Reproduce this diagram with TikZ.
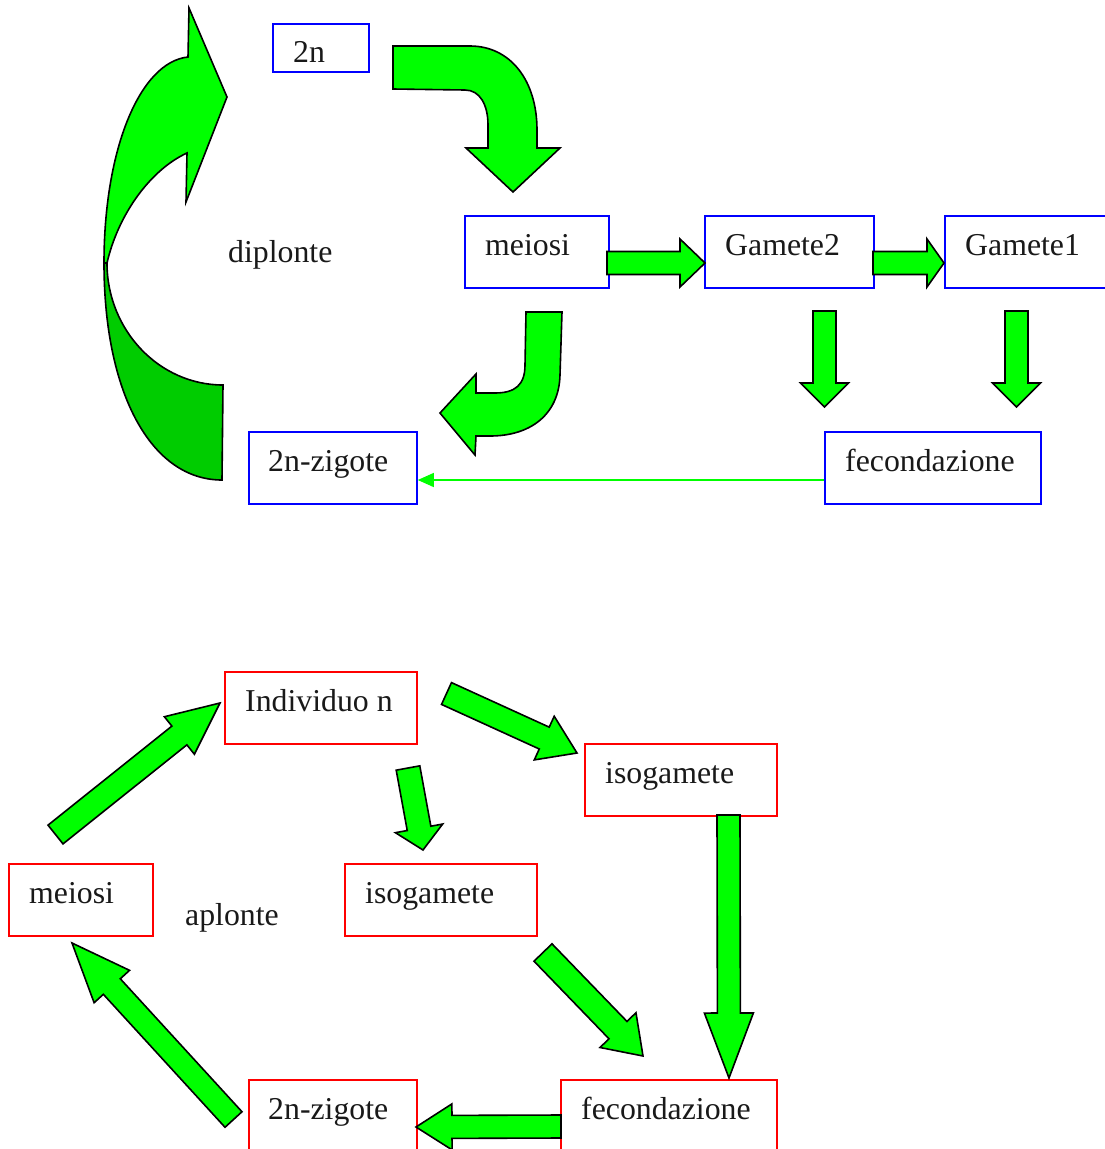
\documentclass[tikz,border=0pt]{standalone}
\usepackage{fontspec}
\setmainfont{Liberation Serif}
\usetikzlibrary{calc,arrows.meta}
\definecolor{bgreen}{RGB}{0,255,0}
\definecolor{dgreen}{RGB}{0,204,0}
\definecolor{bblue}{RGB}{0,0,255}
\definecolor{bred}{RGB}{255,0,0}
\tikzset{
  blkarrow/.style={draw=black, line width=1.6pt, fill=bgreen, line join=miter},
  darkpart/.style={blkarrow, fill=dgreen},
  bluebox/.style={draw=bblue, line width=1.8pt, rectangle, inner sep=0pt, anchor=north west},
  redbox/.style={draw=bred, line width=1.8pt, rectangle, inner sep=0pt, anchor=north west},
  lbl/.style={font=\fontsize{31.8}{37}\selectfont, inner sep=0pt, anchor=base west, text=black!90},
  greenline/.style={draw=bgreen, line width=1.3pt, -{Triangle[length=16pt,width=14pt]}},
}
% #1 start, #2 tip, #3 half shaft width, #4 half head width, #5 head length
\newcommand{\fatarrow}[5]{%
  \path ($(#2)!#5!(#1)$) coordinate (fah);
  \draw[blkarrow] ($(#1)!#3!90:(#2)$) -- ($(fah)!#3!-90:(#1)$) -- ($(fah)!#4!-90:(#1)$)
    -- (#2) -- ($(fah)!#4!90:(#1)$) -- ($(fah)!#3!90:(#1)$) -- ($(#1)!#3!-90:(#2)$) -- cycle;}
\begin{document}
\begin{tikzpicture}[x=1pt,y=-1pt]
\clip (0,0) rectangle (1105,1149);
\fill[white] (0,0) rectangle (1105,1149);

% ---------- top: diplonte ----------
\node[bluebox, minimum width=96pt, minimum height=48pt] (b2n) at (272,23) {};
\node[lbl] (t2n) at (293,62) {2n};
\node[bluebox, minimum width=144pt, minimum height=72pt] (bmei) at (464,215) {};
\node[lbl] (tmei) at (485,255) {meiosi};
\node[bluebox, minimum width=169pt, minimum height=72pt] (bg2) at (704,215) {};
\node[lbl] (tg2) at (725,255) {Gamete2};
\node[bluebox, minimum width=170pt, minimum height=72pt] (bg1) at (944,215) {};
\node[lbl] (tg1) at (965,255) {Gamete1};
\node[bluebox, minimum width=168pt, minimum height=72pt] (bzig) at (248,431) {};
\node[lbl] (tzig) at (268,471) {2n-zigote};
\node[bluebox, minimum width=216pt, minimum height=72pt] (bfec) at (824,431) {};
\node[lbl] (tfec) at (845,471) {fecondazione};
\node[lbl] (tdip) at (228,262) {diplonte};

% big curved arrow (left)
\draw[darkpart] (104,263) .. controls (104,393) and (151,480) .. (222,480)
  -- (223,385) .. controls (159,385) and (107,330) .. (107,263) -- cycle;
\draw[blkarrow] (104,263) .. controls (104,149) and (140,62) .. (188,57)
  -- (189,8) -- (227,97) -- (186,202) -- (187,153)
  .. controls (150,170) and (118,215) .. (107,263) -- cycle;

% curved arrow 2n -> meiosi
\draw[blkarrow] (393,46) -- (470,46) .. controls (510,46) and (537,80) .. (537,130)
  -- (537,148) -- (560,148) -- (513,192) -- (466,148) -- (488,148) -- (488,125)
  .. controls (488,105) and (480,90) .. (465,90) -- (393,89) -- cycle;

% curved arrow meiosi -> 2n-zigote
\draw[blkarrow] (526,312) -- (562,312) -- (560,375) .. controls (559,415) and (530,436) .. (490,436)
  -- (476,436) -- (475,455) -- (440,413) -- (476,374) -- (476,393) -- (495,393)
  .. controls (515,393) and (525,385) .. (525,365) -- cycle;

% straight block arrows (top)
\coordinate (a1s) at (607,263);   \coordinate (a1t) at (705,263);
\coordinate (a2s) at (873,263);   \coordinate (a2t) at (944,263);
\coordinate (a3s) at (824.5,311); \coordinate (a3t) at (824.5,407);
\coordinate (a4s) at (1016.5,311);\coordinate (a4t) at (1016.5,407);
\fatarrow{a1s}{a1t}{11.5pt}{24pt}{25pt}
\fatarrow{a2s}{a2t}{11.5pt}{24pt}{17pt}
\fatarrow{a3s}{a3t}{11.5pt}{24pt}{24pt}
\fatarrow{a4s}{a4t}{11.5pt}{24pt}{24pt}

% thin green connector fecondazione -> 2n-zigote
\coordinate (gls) at (bfec.west |- 0,480);
\coordinate (glt) at (bzig.east |- 0,480);
\draw[greenline] (gls) -- (glt);

% ---------- bottom: aplonte ----------
\node[redbox, minimum width=192pt, minimum height=72pt] (rind) at (224,671) {};
\node[lbl] (tind) at (245,711) {Individuo n};
\node[redbox, minimum width=192pt, minimum height=72pt] (riso1) at (584,743) {};
\node[lbl] (tiso1) at (605,783) {isogamete};
\node[redbox, minimum width=144pt, minimum height=72pt] (rmei) at (8,863) {};
\node[lbl] (trmei) at (29,903) {meiosi};
\node[redbox, minimum width=192pt, minimum height=72pt] (riso2) at (344,863) {};
\node[lbl] (tiso2) at (365,903) {isogamete};
\node[redbox, minimum width=168pt, minimum height=80pt] (rzig) at (248,1079) {};
\node[lbl] (trzig) at (268,1119) {2n-zigote};
\node[redbox, minimum width=216pt, minimum height=80pt] (rfec) at (560,1079) {};
\node[lbl] (trfec) at (581,1119) {fecondazione};
\node[lbl] (tapl) at (185,925) {aplonte};

\coordinate (b1s) at (55.5,834.5); \coordinate (b1t) at (220,703);
\coordinate (b2s) at (446.5,693.5);\coordinate (b2t) at (577,753);
\coordinate (b3s) at (408,768);    \coordinate (b3t) at (423,850);
\coordinate (b4s) at (728.5,815);  \coordinate (b4t) at (729,1078);
\coordinate (b5s) at (543,952.5);  \coordinate (b5t) at (643,1056);
\coordinate (b6s) at (233.5,1119.5);\coordinate (b6t) at (72,943);
\coordinate (b7s) at (561,1126.5); \coordinate (b7t) at (416,1127);
\fatarrow{b1s}{b1t}{12pt}{24pt}{52pt}
\fatarrow{b2s}{b2t}{12pt}{24pt}{36pt}
\fatarrow{b3s}{b3t}{12pt}{24pt}{22pt}
\fatarrow{b4s}{b4t}{11.5pt}{24.5pt}{65pt}
\fatarrow{b5s}{b5t}{12.5pt}{25pt}{36pt}
\fatarrow{b6s}{b6t}{11.5pt}{24pt}{59pt}
\fatarrow{b7s}{b7t}{11.5pt}{23pt}{36pt}
\end{tikzpicture}
\end{document}
